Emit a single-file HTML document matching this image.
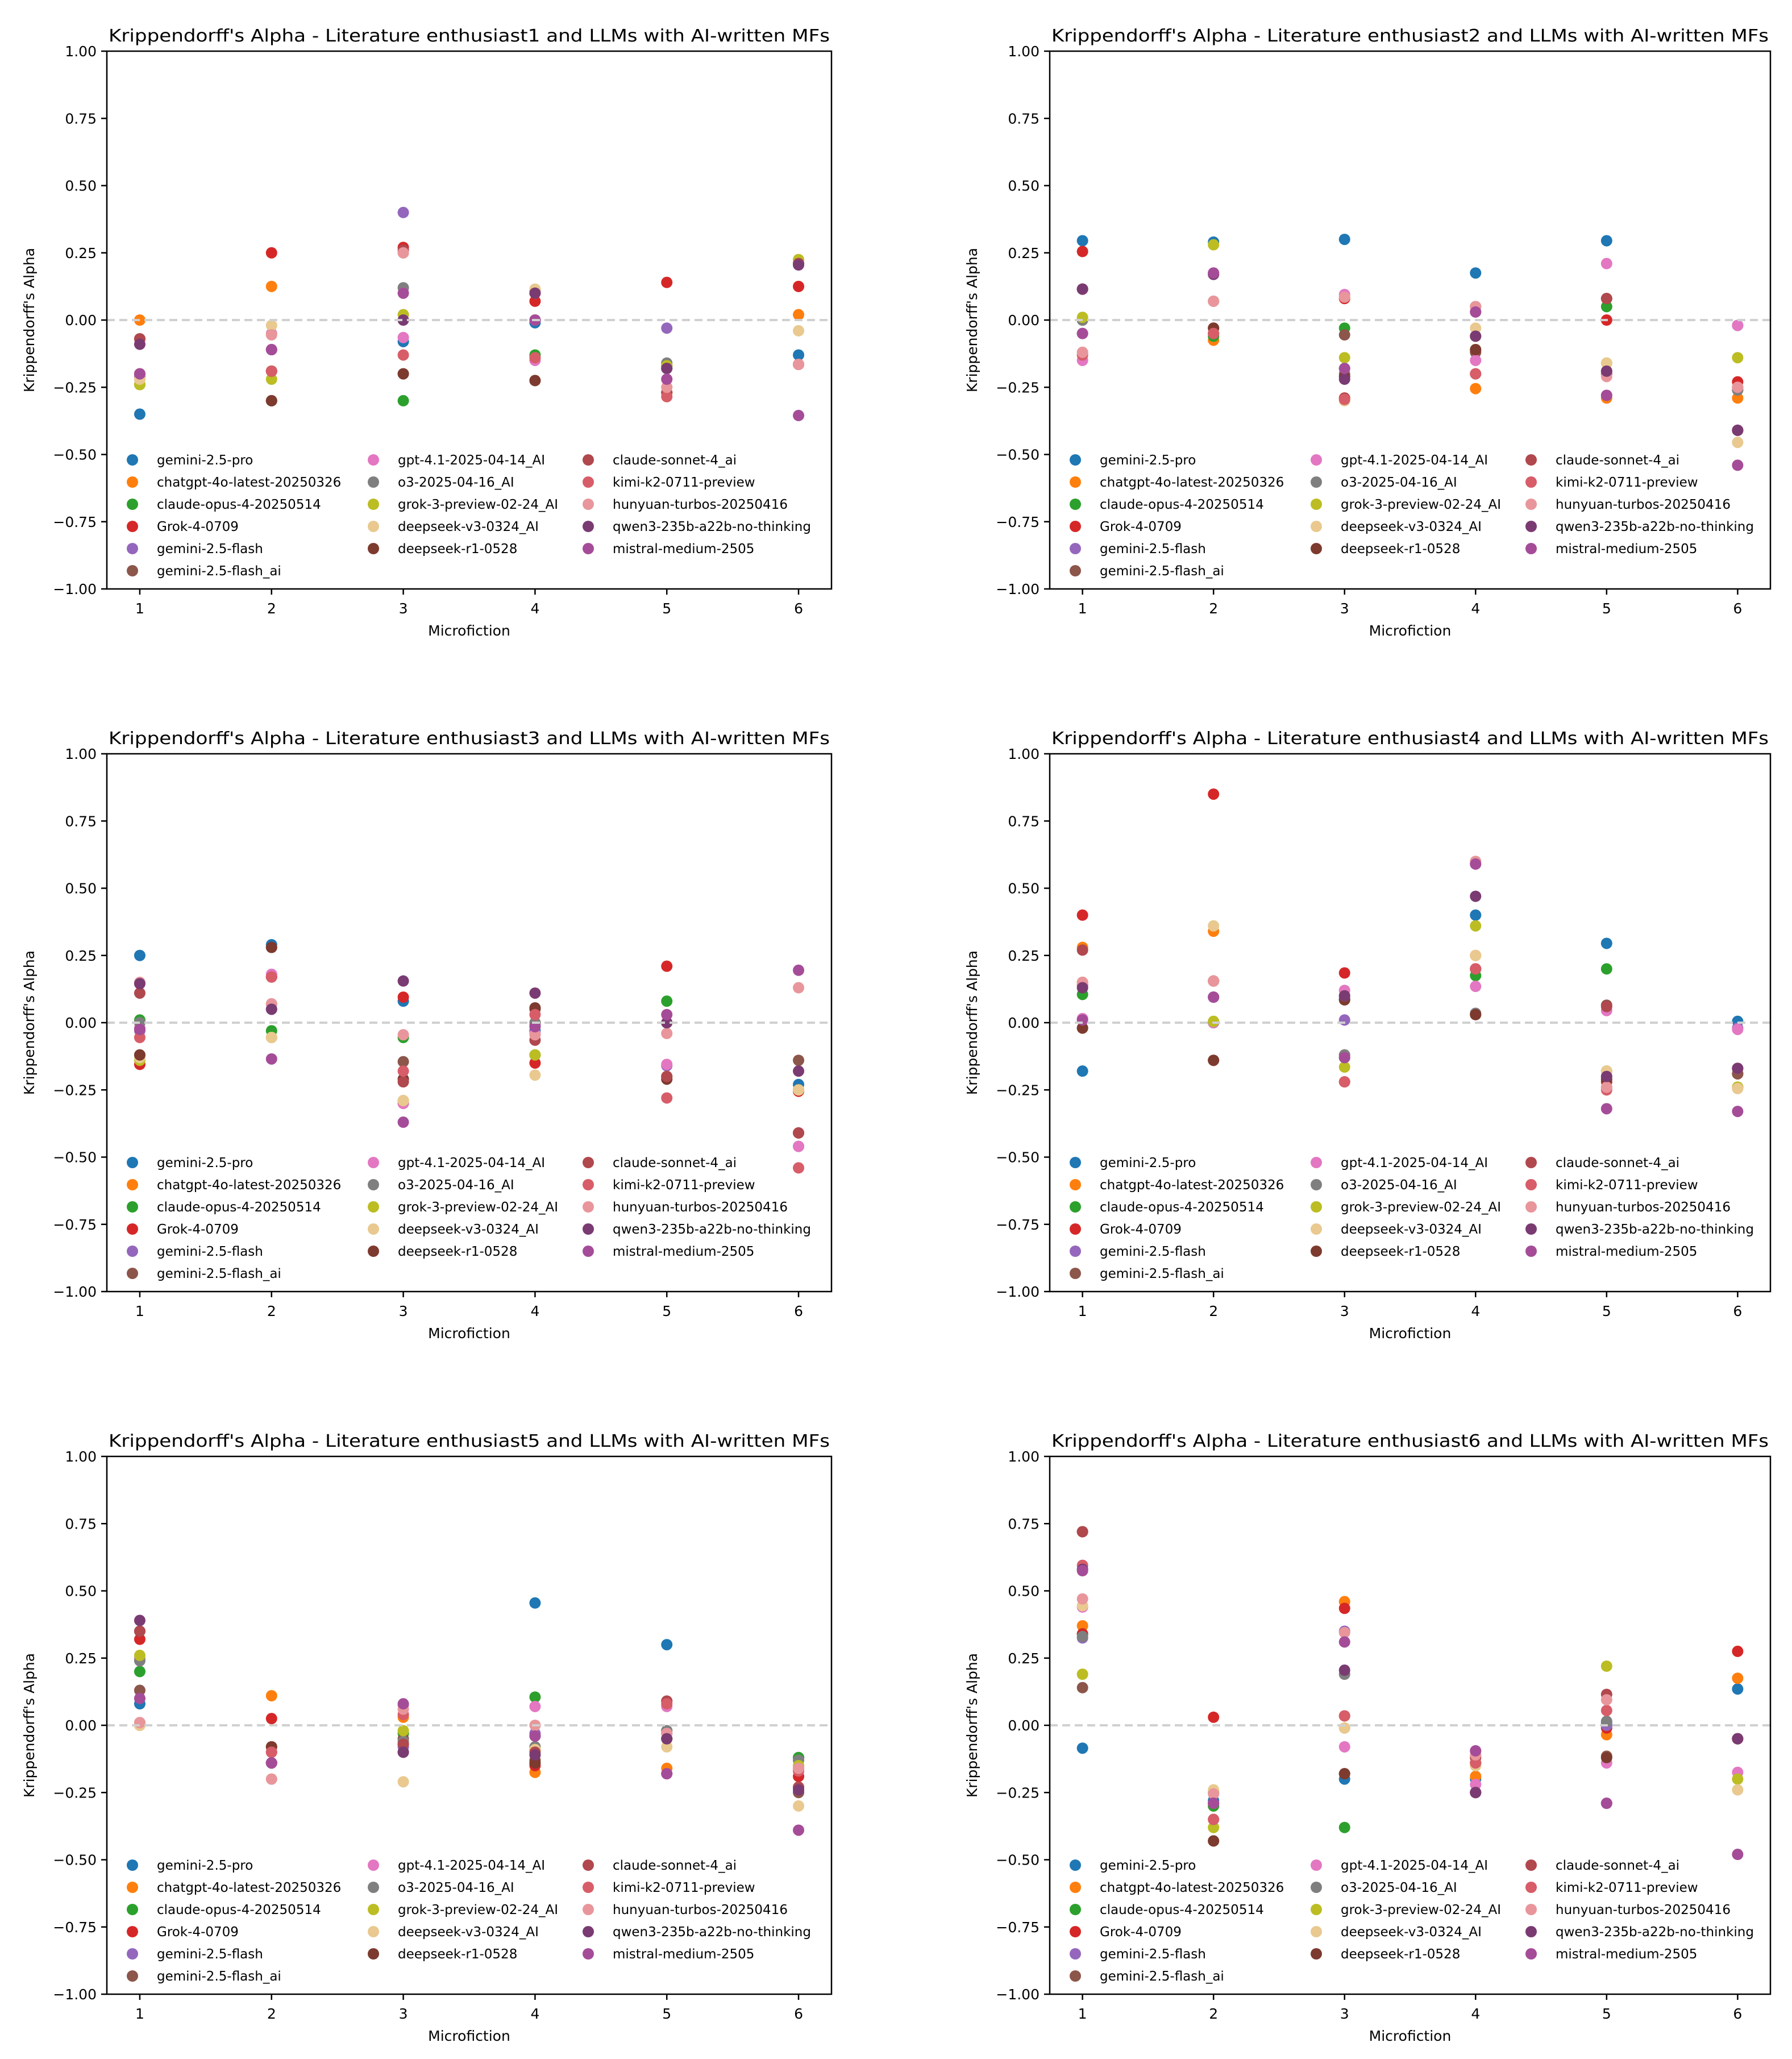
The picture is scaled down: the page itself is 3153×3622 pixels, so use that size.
<!DOCTYPE html>
<html><head><meta charset="utf-8"><style>
html,body{margin:0;padding:0;background:#fff;}
svg{display:block;font-family:"DejaVu Sans","Liberation Sans",sans-serif;}
</style></head><body>
<svg id="fig" width="3153" height="3622" viewBox="0 0 3153 3622" xmlns="http://www.w3.org/2000/svg"></svg>
<script>
const models = ["gemini-2.5-pro","chatgpt-4o-latest-20250326","claude-opus-4-20250514","Grok-4-0709","gemini-2.5-flash","gemini-2.5-flash_ai","gpt-4.1-2025-04-14_AI","o3-2025-04-16_AI","grok-3-preview-02-24_AI","deepseek-v3-0324_AI","deepseek-r1-0528","claude-sonnet-4_ai","kimi-k2-0711-preview","hunyuan-turbos-20250416","qwen3-235b-a22b-no-thinking","mistral-medium-2505"];
const colors = ["#1f77b4","#ff7f0e","#2ca02c","#d62728","#9467bd","#8c564b","#e377c2","#7f7f7f","#bcbd22","#e9c98f","#7d3a2e","#b0484e","#d75d68","#e8969b","#7a3b72","#a54c98"];
const microfictions = [1,2,3,4,5,6];
const yTicks = [-1,-0.75,-0.5,-0.25,0,0.25,0.5,0.75,1];
const yTickLabels = ["\u22121.00","\u22120.75","\u22120.50","\u22120.25","0.00","0.25","0.50","0.75","1.00"];
const xTickLabels = ["1","2","3","4","5","6"];
const enthusiasts = ["1","2","3","4","5","6"];
// values per panel: rows = models, cols = microfiction 1..6
const alphaE1 = [
[-0.35,-0.19,-0.08,-0.01,-0.17,-0.13],[0.0,0.125,0.25,0.0,-0.27,0.02],[-0.2,-0.19,-0.30,-0.13,-0.17,-0.165],[-0.2,0.25,0.27,0.07,0.14,0.125],
[-0.21,-0.11,0.40,0.0,-0.03,-0.165],[-0.07,-0.30,-0.2,-0.225,-0.17,0.21],[-0.22,-0.05,-0.065,-0.15,-0.22,-0.165],[-0.24,-0.30,0.12,0.11,-0.16,0.21],
[-0.24,-0.22,0.02,0.10,-0.17,0.225],[-0.22,-0.02,0.10,0.115,-0.25,-0.04],[-0.07,-0.30,-0.20,-0.225,-0.18,0.21],[-0.07,-0.19,0.26,0.10,-0.27,0.21],
[-0.20,-0.19,-0.13,-0.14,-0.285,-0.165],[-0.20,-0.055,0.25,0.0,-0.25,-0.165],[-0.09,-0.11,0.0,0.10,-0.18,0.205],[-0.20,-0.11,0.10,0.0,-0.22,-0.355]];
const alphaE2 = [
[0.295,0.29,0.30,0.175,0.295,-0.02],[0.0,-0.075,-0.29,-0.255,-0.29,-0.29],[0.0,-0.06,-0.03,-0.11,0.05,-0.26],[0.255,-0.05,0.08,-0.20,0.0,-0.23],
[-0.05,0.17,-0.18,0.03,-0.28,-0.26],[0.115,-0.03,-0.055,-0.12,0.08,-0.41],[-0.15,0.175,0.095,-0.15,0.21,-0.02],[0.0,0.07,-0.20,-0.06,-0.19,-0.26],
[0.01,0.28,-0.14,-0.06,-0.16,-0.14],[-0.12,0.07,-0.30,-0.03,-0.16,-0.455],[0.115,-0.03,-0.21,-0.11,-0.20,-0.41],[0.115,-0.05,-0.29,0.05,0.08,-0.41],
[-0.13,-0.05,-0.295,-0.20,-0.20,-0.25],[-0.12,0.07,0.085,0.05,-0.21,-0.25],[0.115,0.17,-0.22,-0.06,-0.19,-0.41],[-0.05,0.175,-0.18,0.03,-0.28,-0.54]];
const alphaE3 = [
[0.25,0.29,0.08,-0.03,0.0,-0.23],[0.0,-0.055,-0.30,0.0,0.0,-0.25],[0.01,-0.03,-0.055,-0.12,0.08,-0.25],[-0.155,0.17,0.095,-0.15,0.21,-0.255],
[-0.03,0.05,-0.30,-0.01,-0.16,-0.46],[-0.12,0.28,-0.145,0.05,-0.20,-0.14],[-0.02,0.18,-0.30,-0.04,-0.155,-0.46],[0.0,0.07,-0.29,0.0,0.0,-0.25],
[-0.14,-0.055,-0.29,-0.12,-0.20,-0.25],[-0.13,-0.055,-0.29,-0.195,-0.04,-0.25],[-0.12,0.28,-0.21,0.055,-0.21,-0.41],[0.11,0.17,-0.22,-0.065,-0.20,-0.41],
[-0.055,0.17,-0.18,0.03,-0.28,-0.54],[0.15,0.07,-0.045,-0.045,-0.04,0.13],[0.145,0.05,0.155,0.11,0.0,-0.18],[-0.025,-0.135,-0.37,-0.015,0.03,0.195]];
const alphaE4 = [
[-0.18,0.0,0.09,0.40,0.295,0.005],[0.28,0.34,-0.12,0.25,-0.24,-0.24],[0.105,0.0,-0.13,0.175,0.20,-0.19],[0.40,0.85,0.185,0.20,-0.22,-0.19],
[0.015,0.095,0.01,0.59,-0.20,-0.02],[-0.02,-0.14,0.085,0.03,0.065,-0.19],[0.015,0.0,0.12,0.135,0.045,-0.025],[0.15,0.155,-0.12,0.035,-0.18,-0.24],
[0.15,0.005,-0.165,0.36,-0.18,-0.24],[0.15,0.36,0.10,0.25,-0.18,-0.245],[-0.02,-0.14,0.085,0.03,-0.21,-0.17],[0.27,0.155,-0.22,0.20,0.06,-0.17],
[0.14,0.155,-0.22,0.20,-0.25,-0.17],[0.15,0.155,0.10,0.60,-0.24,-0.17],[0.13,0.095,0.10,0.47,-0.20,-0.17],[0.01,0.095,-0.13,0.59,-0.32,-0.33]];
const alphaE5 = [
[0.08,-0.14,-0.10,0.455,0.30,-0.12],[0.0,0.11,0.03,-0.175,-0.16,-0.16],[0.20,-0.14,-0.03,0.105,-0.02,-0.12],[0.32,0.025,-0.07,-0.15,-0.03,-0.19],
[0.10,-0.14,-0.08,-0.03,-0.18,-0.16],[0.13,-0.08,-0.05,-0.13,0.09,-0.25],[0.25,-0.14,0.075,0.07,0.07,-0.16],[0.24,-0.14,-0.06,-0.08,-0.02,-0.13],
[0.26,-0.14,-0.02,-0.09,-0.05,-0.15],[0.0,-0.20,-0.21,-0.09,-0.08,-0.30],[0.35,-0.08,-0.10,-0.14,-0.05,-0.23],[0.35,-0.10,-0.07,-0.10,0.09,-0.23],
[0.01,-0.10,0.04,-0.04,0.08,-0.17],[0.01,-0.20,0.06,0.0,-0.03,-0.16],[0.39,-0.14,-0.10,-0.11,-0.05,-0.24],[0.10,-0.14,0.08,-0.04,-0.18,-0.39]];
const alphaE6 = [
[-0.085,-0.28,-0.20,-0.20,0.01,0.135],[0.37,-0.30,0.46,-0.19,-0.035,0.175],[0.34,-0.30,-0.38,-0.14,0.0,-0.05],[0.34,0.03,0.435,-0.14,-0.01,0.275],
[0.325,-0.29,0.35,-0.095,0.0,-0.05],[0.14,-0.43,-0.18,-0.25,-0.115,-0.05],[0.44,-0.29,-0.08,-0.22,-0.14,-0.175],[0.33,-0.25,0.19,-0.12,0.015,-0.05],
[0.19,-0.38,-0.01,-0.15,0.22,-0.20],[0.445,-0.24,-0.01,-0.15,-0.12,-0.24],[0.72,-0.43,-0.18,-0.25,-0.12,-0.05],[0.72,-0.35,0.035,-0.12,0.115,-0.05],
[0.595,-0.35,0.035,-0.14,0.055,-0.05],[0.47,-0.255,0.345,-0.11,0.095,-0.05],[0.58,-0.29,0.205,-0.25,-0.29,-0.05],[0.575,-0.29,0.31,-0.095,-0.29,-0.48]];
const panelData = [alphaE1,alphaE2,alphaE3,alphaE4,alphaE5,alphaE6];

const NS = "http://www.w3.org/2000/svg";
const fig = document.getElementById('fig');
function mk(tag, attrs, parent){ const e=document.createElementNS(NS,tag); for(const k in attrs) e.setAttribute(k,attrs[k]); (parent||fig).appendChild(e); return e; }

const colX = [[188,1463],[1847,3115]];
const rowY = [[90,1036],[1326,2272],[2562,3508]];

panelData.forEach((data, p) => {
  const [L,R] = colX[p%2]; const [T,B] = rowY[Math.floor(p/2)];
  const g = mk('g',{});
  
  
  const xs = v => L + (v-0.75)/5.5*(R-L);
  const ys = v => B - (v+1)/2*(B-T);
  // title
  const t = mk('text',{x:(L+R)/2,y:T-17,'text-anchor':'middle','font-size':30,fill:'#000',textLength:R-L-6,lengthAdjust:'spacingAndGlyphs'},g);
  t.textContent = "Krippendorff's Alpha - Literature enthusiast"+enthusiasts[p]+" and LLMs with AI-written MFs";
  
  
  // y ticks
  yTicks.forEach((v,i)=>{
    const y=ys(v);
    mk('line',{x1:L-10,x2:L,y1:y,y2:y,stroke:'#000','stroke-width':2.5},g);
    const tl=mk('text',{x:L-18,y:y+9,'text-anchor':'end','font-size':25,fill:'#000'},g);
    tl.textContent=yTickLabels[i];
    
    
  });
  microfictions.forEach((v,i)=>{
    const x=xs(v);
    mk('line',{x1:x,x2:x,y1:B,y2:B+10,stroke:'#000','stroke-width':2.5},g);
    const tl=mk('text',{x:x,y:B+43,'text-anchor':'middle','font-size':25,fill:'#000'},g);
    tl.textContent=xTickLabels[i];
    
    
  });
  const xl=mk('text',{x:(L+R)/2,y:B+82,'text-anchor':'middle','font-size':25,fill:'#000'},g);
  xl.textContent='Microfiction';
  
  
  const yc=(T+B)/2, yx=L-128;
  const yl=mk('text',{x:yx,y:yc,'text-anchor':'middle','font-size':25,fill:'#000',transform:`rotate(-90 ${yx} ${yc})`},g);
  yl.textContent="Krippendorff's Alpha";
  
  
  // points
  data.forEach((series, s)=>{
    series.forEach((v,i)=>{
      const c=mk('circle',{cx:xs(microfictions[i]),cy:ys(v),r:10,fill:colors[s]},g);
      
      
    });
  });
  // zero line
  const zl=mk('line',{x1:L,x2:R,y1:ys(0),y2:ys(0),stroke:'#d0d0d0','stroke-width':4,'stroke-dasharray':'14 8'},g);
  
  
  // legend
  const colOff=[45,469,847];
  models.forEach((m,s)=>{
    const col = s<6?0:(s<11?1:2);
    const row = s<6?s:(s<11?s-6:s-11);
    const mx=L+colOff[col], my=B-227+row*39;
    const lc=mk('circle',{cx:mx,cy:my,r:10,fill:colors[s]},g);
    
    
    const lt=mk('text',{x:mx+43,y:my+8,'font-size':23,fill:'#000'},g);
    lt.textContent=m;
    
    
  });
  // frame
  const fr=mk('rect',{x:L,y:T,width:R-L,height:B-T,fill:'none',stroke:'#000','stroke-width':2.5},g);
  
  
});
</script>
</body></html>
